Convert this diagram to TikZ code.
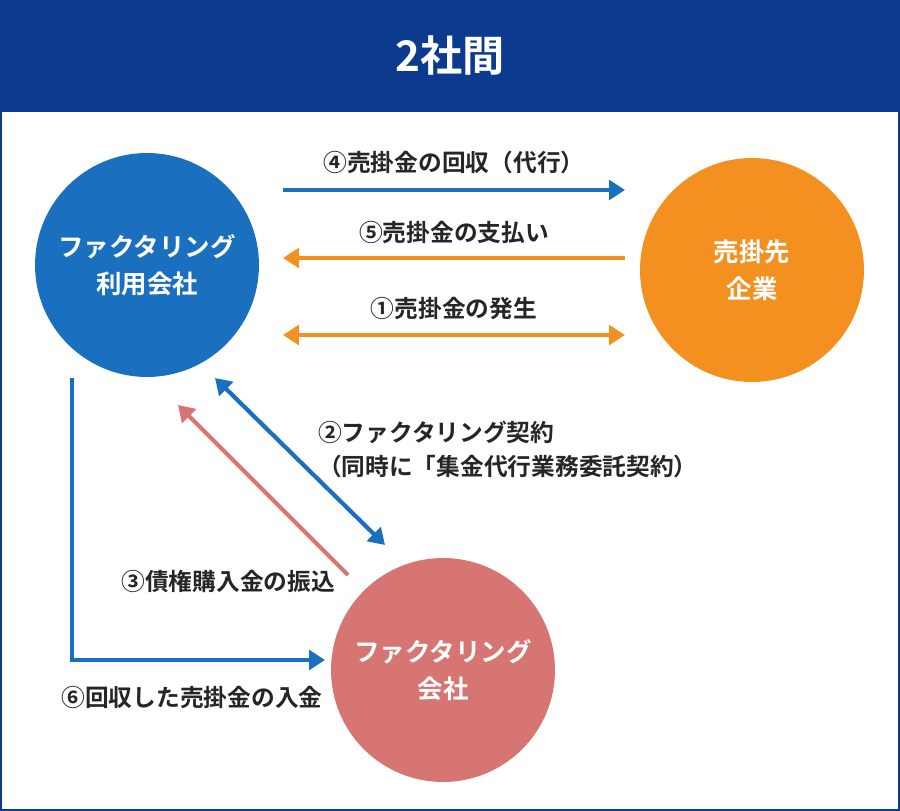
\documentclass[tikz,border=0pt]{standalone}
\usepackage{fontspec}
\setmainfont{Noto Sans CJK JP}[BoldFont={Noto Sans CJK JP Bold}]
\usetikzlibrary{arrows.meta}
\definecolor{hdr}{HTML}{0B3A8E}
\definecolor{cb}{HTML}{1A6FBF}
\definecolor{co}{HTML}{F39020}
\definecolor{cp}{HTML}{D67572}
\begin{document}
\begin{tikzpicture}[x=0.02cm,y=-0.02cm,
  circ/.style={circle,minimum size=4.48cm,inner sep=0,text=white,font=\bfseries\fontsize{14.5}{21}\selectfont,align=center},
  arr/.style={line width=2.4pt,-{Triangle[length=9pt,width=11pt]}},
  darr/.style={line width=2.4pt,{Triangle[length=9pt,width=11pt]}-{Triangle[length=9pt,width=11pt]}},
  lab/.style={font=\bfseries\fontsize{13.5}{16}\selectfont,text=black!85,inner sep=1pt}]
\useasboundingbox (0,0) rectangle (900,811);
\fill[white] (0,0) rectangle (900,811);
\fill[hdr] (0,0) rectangle (900,112);
\draw[hdr,line width=1.5pt] (0.5,0.5) rectangle (899.5,810.5);
\node[text=white,font=\bfseries\fontsize{24}{28}\selectfont] (title) at (450,55) {2社間};
\node[circ,fill=cb] (A) at (147,265) {ファクタリング\\利用会社};
\node[circ,fill=co] (B) at (752,270) {売掛先\\企業};
\node[circ,fill=cp] (C) at (443,670) {ファクタリング\\会社};
\coordinate (a1) at (283,190); \coordinate (b1) at (625,190);
\coordinate (a2) at (283,258); \coordinate (b2) at (625,258);
\coordinate (a3) at (283,335); \coordinate (b3) at (625,335);
\draw[arr,cb] (a1) -- (b1);
\draw[arr,co] (b2) -- (a2);
\draw[darr,co] (a3) -- (b3);
\node[lab] (l4) at (454,162) {④売掛金の回収（代行）};
\node[lab] (l5) at (454,232) {⑤売掛金の支払い};
\node[lab] (l1) at (454,308) {①売掛金の発生};
\coordinate (p1) at (215,378); \coordinate (p2) at (385,545);
\draw[darr,cb] (p1) -- (p2);
\coordinate (q1) at (348,575); \coordinate (q2) at (178,405);
\draw[arr,cp] (q1) -- (q2);
\node[lab,anchor=west] (l2) at (316,432) {②ファクタリング契約};
\node[lab,anchor=west] (l2b) at (316,466) {（同時に「集金代行業務委託契約）};
\node[lab,anchor=east] (l3) at (337,582) {③債権購入金の振込};
\coordinate (r1) at (72,378); \coordinate (r2) at (72,660); \coordinate (r3) at (325,660);
\draw[arr,cb] (r1) -- (r2) -- (r3);
\node[lab] (l6) at (192,697) {⑥回収した売掛金の入金};
\end{tikzpicture}
\end{document}
